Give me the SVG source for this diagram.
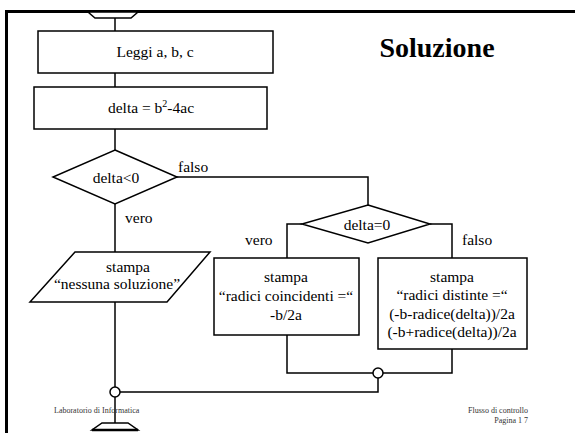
<svg xmlns="http://www.w3.org/2000/svg" width="575" height="433" viewBox="0 0 575 433">
<style>
.s{fill:#fff;stroke:#000;stroke-width:1.5}
.c{fill:none;stroke:#000;stroke-width:1.5}
.t{font-family:"Liberation Serif","Times New Roman",serif;font-size:15.5px;fill:#000;text-anchor:middle}
.l{font-family:"Liberation Serif","Times New Roman",serif;font-size:15.5px;fill:#000}
.f{font-family:"Liberation Serif","Times New Roman",serif;font-size:8px;fill:#333}
</style>
<rect width="575" height="433" fill="#fff"/>
<g id="frame">
<path d="M6.5 433 V11.5 H575" fill="none" stroke="#000" stroke-width="3"/>
</g>
<g id="title"><text x="437" y="57" font-family="Liberation Serif,Times New Roman,serif" font-size="28" font-weight="bold" text-anchor="middle">Soluzione</text></g>
<g id="connectors">
<path class="c" d="M115 18 V31"/>
<path class="c" d="M115 73 V87"/>
<path class="c" d="M115 129 V150"/>
<path class="c" d="M115 204 V252"/>
<path class="c" d="M177 177 H368 V205"/>
<path class="c" d="M302 224 H287 V258"/>
<path class="c" d="M430 224 H452 V258"/>
<path class="c" d="M287 335 V373 H373"/>
<path class="c" d="M452 349 V373 H383"/>
<path class="c" d="M378 378 V392 H120"/>
<path class="c" d="M115 302 V387"/>
<path class="c" d="M115 397 V423"/>
</g>
<g id="start"><path class="s" d="M88 12 H138 L131 18 H95 Z"/></g>
<g id="leggi"><rect class="s" x="38" y="31" width="235" height="42"/><text class="t" x="155" y="57">Leggi a, b, c</text></g>
<g id="delta"><rect class="s" x="34" y="87" width="233" height="42"/><text class="t" x="151" y="113">delta = b<tspan font-size="10" dy="-6">2</tspan><tspan dy="6">-4ac</tspan></text></g>
<g id="cond1"><polygon class="s" points="115,150 177,177 115,204 53,177"/><text class="t" x="116" y="183">delta&lt;0</text></g>
<text class="l" x="178" y="172">falso</text>
<text class="l" x="125" y="223">vero</text>
<g id="nessuna"><polygon class="s" points="75,252 210,252 167,302 30,302"/><text class="t" x="128" y="272">stampa</text><text class="t" x="117" y="289">“nessuna soluzione”</text></g>
<g id="cond2"><polygon class="s" points="368,205 430,224 368,243 302,224"/><text class="t" x="367" y="230">delta=0</text></g>
<text class="l" x="245" y="245">vero</text>
<text class="l" x="462" y="245">falso</text>
<g id="coincidenti"><rect class="s" x="214" y="258" width="145" height="77"/><text class="t" x="286" y="282">stampa</text><text class="t" x="286" y="301">“radici coincidenti =“</text><text class="t" x="286" y="320">-b/2a</text></g>
<g id="distinte"><rect class="s" x="378" y="258" width="149" height="91"/><text class="t" x="452" y="282">stampa</text><text class="t" x="452" y="300">“radici distinte =“</text><text class="t" x="452" y="319">(-b-radice(delta))/2a</text><text class="t" x="452" y="337">(-b+radice(delta))/2a</text></g>
<g id="join1"><circle class="s" cx="378" cy="373" r="5"/></g>
<g id="join2"><circle class="s" cx="115" cy="392" r="5"/></g>
<g id="end"><path class="s" d="M102 423 H128 L138 430 H92 Z"/><path d="M92 430 H138" stroke="#000" stroke-width="2.5"/></g>
<text class="f" x="54" y="413">Laboratorio di Informatica</text>
<text class="f" x="528" y="413" text-anchor="end">Flusso di controllo</text>
<text class="f" x="528" y="423" text-anchor="end">Pagina 1 7</text>
</svg>
